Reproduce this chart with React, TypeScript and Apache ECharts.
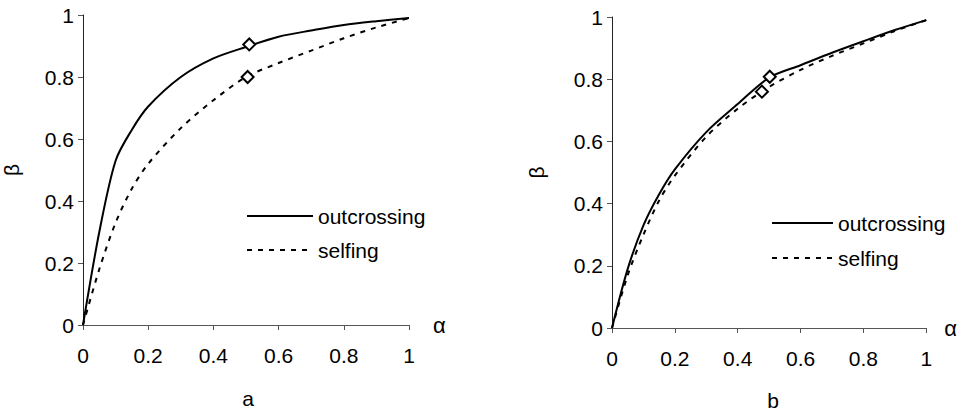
import React, { useEffect, useRef } from "react";
import * as echarts from "echarts";

const alphaGrid = [0, 0.05, 0.1, 0.15, 0.2, 0.3, 0.4, 0.5, 0.6, 0.7, 0.8, 0.9, 1];
const betaOutA = [0, 0.3, 0.53, 0.63, 0.705, 0.8, 0.86, 0.897, 0.93, 0.95, 0.968, 0.98, 0.99];
const betaSelfA = [0, 0.18, 0.33, 0.44, 0.52, 0.635, 0.725, 0.8, 0.845, 0.885, 0.925, 0.96, 0.99];
const betaOutB = [0, 0.19, 0.33, 0.43, 0.51, 0.63, 0.72, 0.805, 0.845, 0.885, 0.922, 0.958, 0.99];
const betaSelfB = [0, 0.17, 0.3, 0.41, 0.49, 0.615, 0.705, 0.775, 0.83, 0.875, 0.915, 0.955, 0.99];
const markersA = [[0.51, 0.905], [0.505, 0.8]];
const markersB = [[0.502, 0.808], [0.477, 0.76]];
const xTicks = [0, 0.2, 0.4, 0.6, 0.8, 1];
const seriesNames = ["outcrossing", "selfing"];
const panelLabels = ["a", "b"];

const FONT = "'Liberation Sans', Arial, sans-serif";
const DASH = [5, 6];

const pairs = (xs: number[], ys: number[]) => xs.map((x, i) => [x, ys[i]]);

export default function App() {
  const ref = useRef<HTMLDivElement>(null);
  useEffect(() => {
    if (!ref.current) return;
    const chart = echarts.init(ref.current, undefined, { renderer: "svg" });
    const makeX = (gi: number, gap: number) => ({
      type: "value" as const,
      gridIndex: gi,
      min: xTicks[0],
      max: xTicks[xTicks.length - 1],
      interval: 0.2,
      name: "α",
      nameLocation: "end" as const,
      nameGap: gap,
      nameTextStyle: { fontSize: 22, color: "#000", fontFamily: FONT, verticalAlign: "middle" as const },
      axisLine: { show: true, lineStyle: { color: "#555", width: 1 } },
      axisTick: { show: true, inside: false, length: 5, lineStyle: { color: "#555" } },
      axisLabel: { fontSize: 21, color: "#000", fontFamily: FONT, margin: 20 },
      splitLine: { show: false },
    });
    const makeY = (gi: number, gap: number) => ({
      type: "value" as const,
      gridIndex: gi,
      min: 0,
      max: 1,
      interval: 0.2,
      name: "β",
      nameLocation: "middle" as const,
      nameRotate: 90,
      nameGap: gap,
      nameTextStyle: { fontSize: 21, color: "#000", fontFamily: FONT },
      axisLine: { show: true, lineStyle: { color: "#222", width: 1 } },
      axisTick: { show: true, inside: false, length: 5, lineStyle: { color: "#555" } },
      axisLabel: { fontSize: 21, color: "#000", fontFamily: FONT, margin: 9 },
      splitLine: { show: false },
    });
    const lineSeries = (name: string, xi: number, ys: number[], dashed: boolean) => ({
      type: "line" as const,
      name,
      xAxisIndex: xi,
      yAxisIndex: xi,
      data: pairs(alphaGrid, ys),
      symbol: "none",
      showSymbol: false,
      smooth: 0.3,
      lineStyle: { color: "#000", width: 2, type: dashed ? (DASH as any) : "solid" },
      itemStyle: { color: "#000" },
      z: 2,
    });
    const markerSeries = (xi: number, data: number[][]) => ({
      type: "scatter" as const,
      xAxisIndex: xi,
      yAxisIndex: xi,
      data,
      symbol: "diamond",
      symbolSize: 12,
      itemStyle: { color: "#fff", borderColor: "#000", borderWidth: 2, opacity: 1 },
      z: 5,
    });
    const legendEntry = (x1: number, x2: number, y: number, text: string, dashed: boolean) => [
      {
        type: "line",
        shape: { x1, y1: y, x2, y2: y },
        style: { stroke: "#000", lineWidth: 2, lineDash: dashed ? DASH : null },
      },
      {
        type: "text",
        x: x2 + 5,
        y,
        style: { text, fontSize: 21, fill: "#000", fontFamily: FONT, align: "left", verticalAlign: "middle" },
      },
    ];
    chart.setOption({
      animation: false,
      backgroundColor: "#fff",
      textStyle: { fontFamily: FONT },
      grid: [
        { left: 81, top: 15, width: 328, height: 310 },
        { left: 612, top: 17, width: 317, height: 311 },
      ],
      xAxis: [makeX(0, 24), makeX(1, 18)],
      yAxis: [makeY(0, 61), makeY(1, 65)],
      graphic: [
        ...legendEntry(247, 313, 216, seriesNames[0], false),
        ...legendEntry(247, 313, 250, seriesNames[1], true),
        ...legendEntry(772, 833, 223, seriesNames[0], false),
        ...legendEntry(772, 833, 258, seriesNames[1], true),
        {
          type: "text",
          x: 248,
          y: 398,
          style: { text: panelLabels[0], fontSize: 21, fill: "#000", fontFamily: FONT, align: "center", verticalAlign: "middle" },
        },
        {
          type: "text",
          x: 773,
          y: 400,
          style: { text: panelLabels[1], fontSize: 21, fill: "#000", fontFamily: FONT, align: "center", verticalAlign: "middle" },
        },
      ],
      series: [
        lineSeries(seriesNames[0], 0, betaOutA, false),
        lineSeries(seriesNames[1], 0, betaSelfA, true),
        lineSeries(seriesNames[0], 1, betaOutB, false),
        lineSeries(seriesNames[1], 1, betaSelfB, true),
        markerSeries(0, markersA),
        markerSeries(1, markersB),
      ],
    });
    return () => chart.dispose();
  }, []);
  return (
    <div
      ref={ref}
      style={{ position: "absolute", left: 0, top: 0, width: 960, height: 416, background: "#fff" }}
    />
  );
}
